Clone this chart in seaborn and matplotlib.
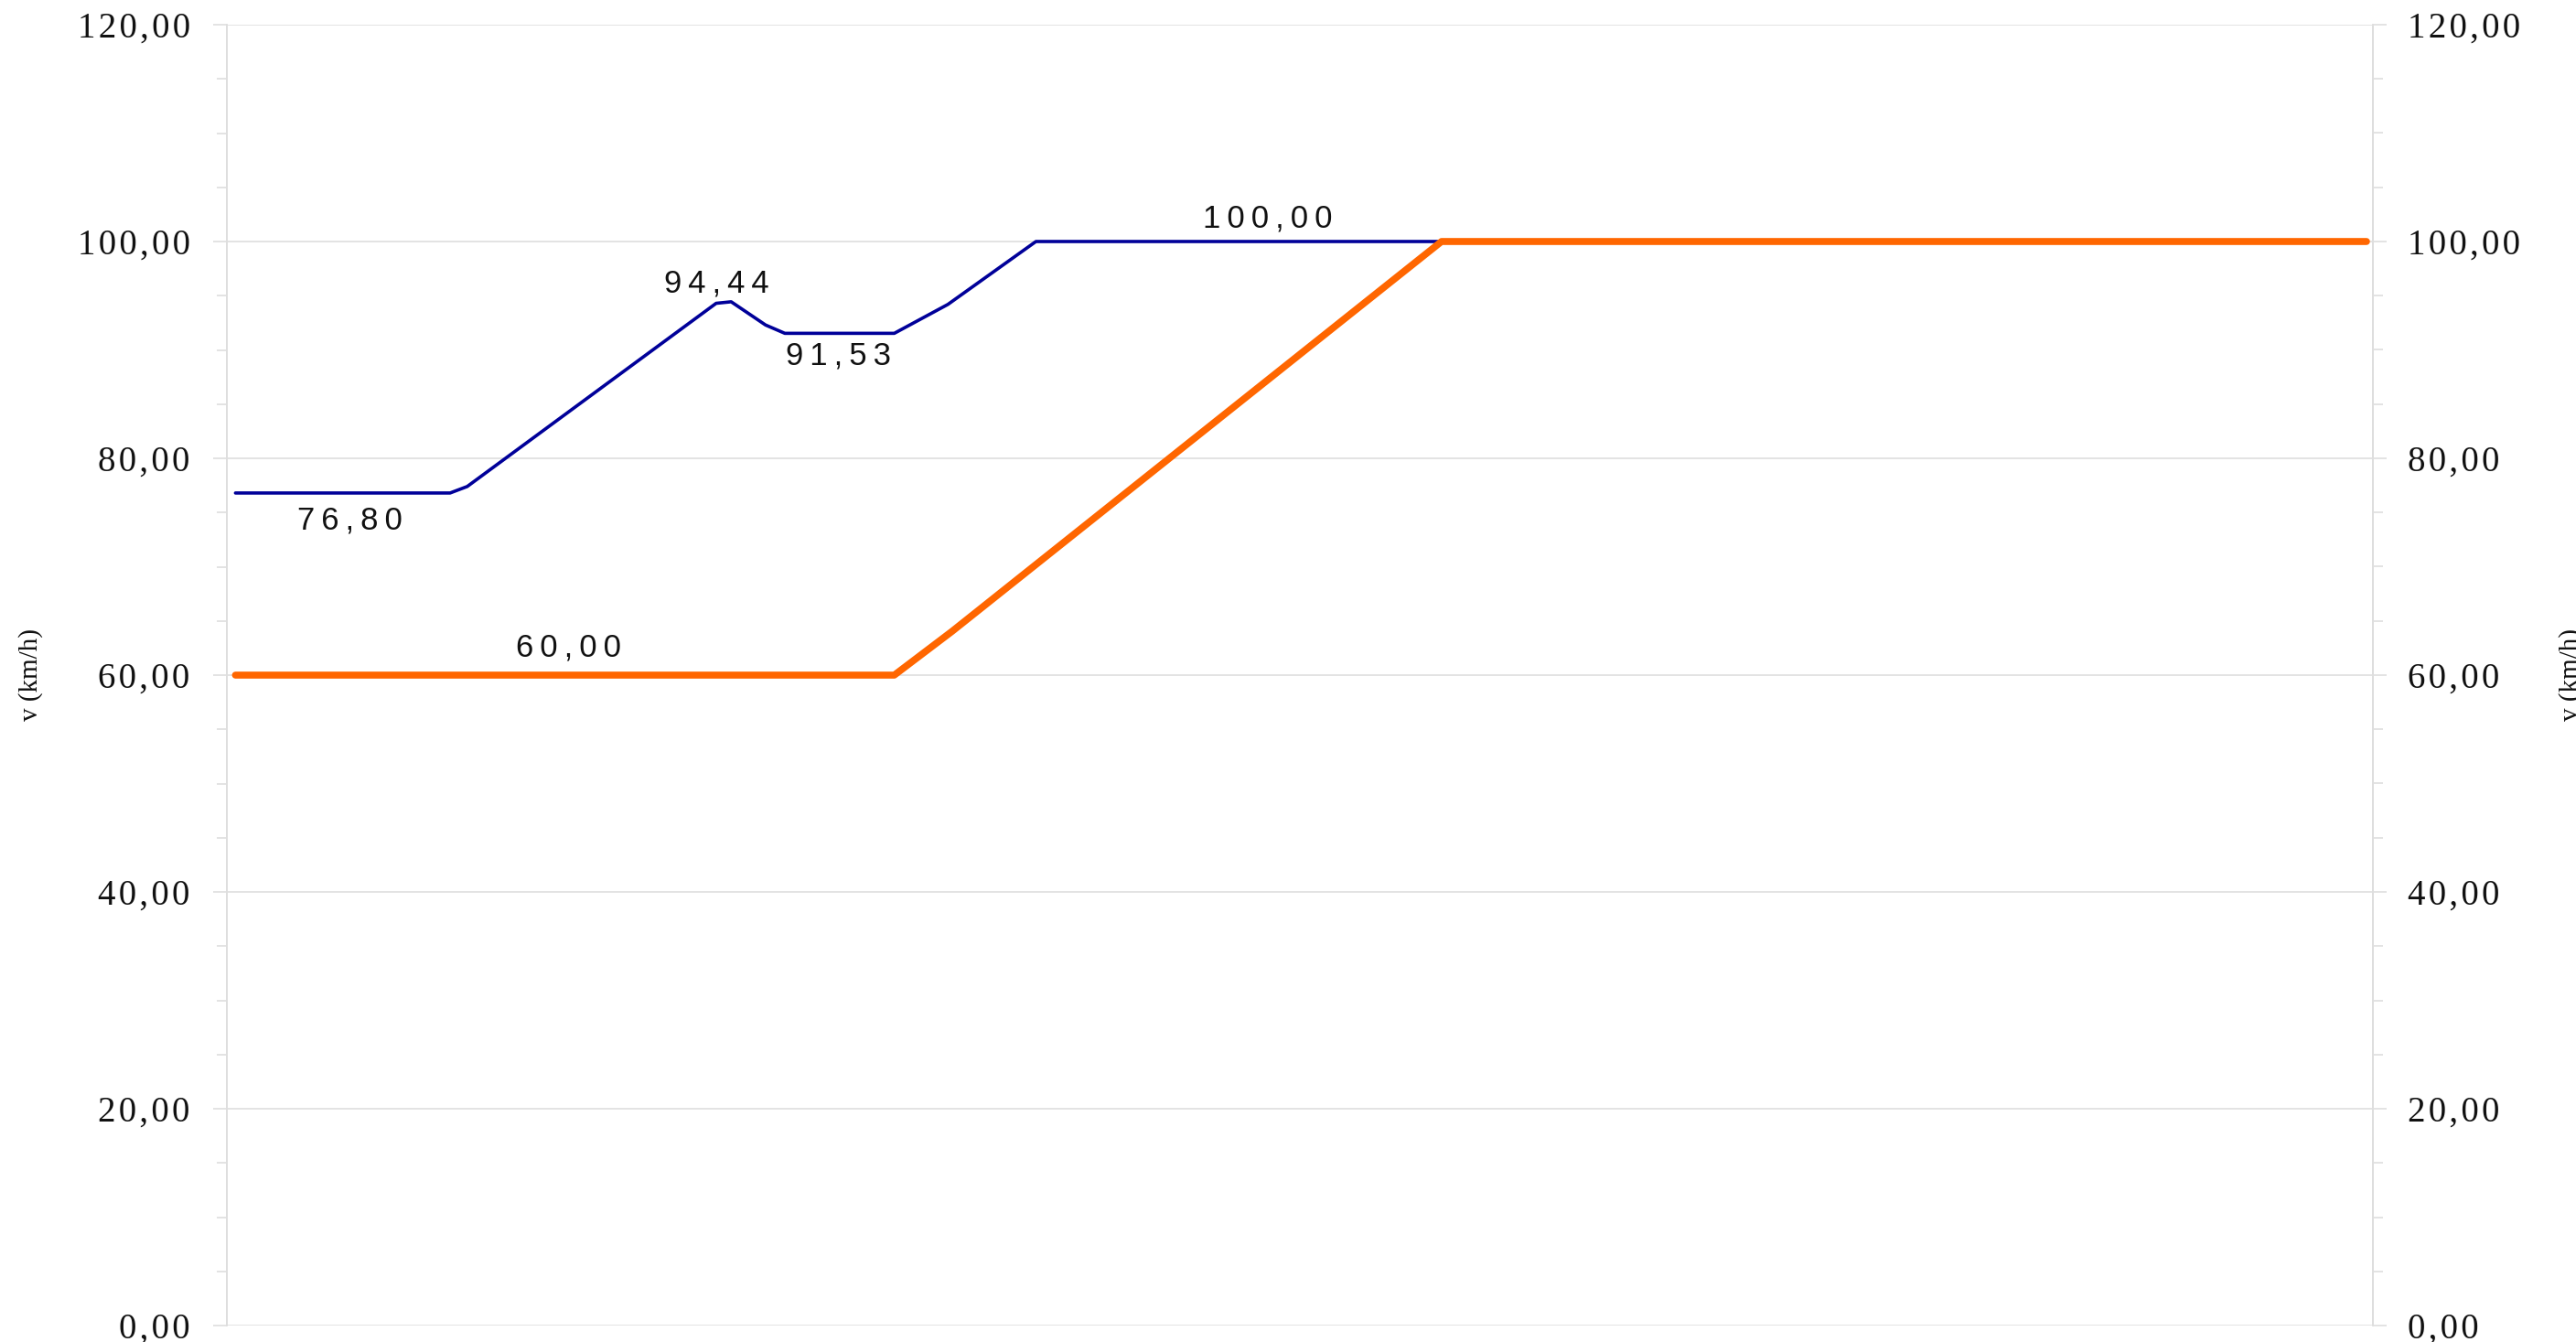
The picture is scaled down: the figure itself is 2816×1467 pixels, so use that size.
import matplotlib.pyplot as plt
import matplotlib.ticker as mticker
import pandas as pd
import seaborn as sns

# chainage (arbitrary units) and speeds
x_design = [4, 104, 112, 228, 235, 251, 260, 311, 336, 377, 997]
v_design = [76.80, 76.80, 77.4, 94.3, 94.44, 92.3, 91.53, 91.53, 94.2, 100.00, 100.00]

x_limit = [4, 311, 338, 566, 997]
v_limit = [60.00, 60.00, 64.05, 100.00, 100.00]

# value labels: (series, x of the point, value, text offset in px)
labels = [
    ('design', 57.5, 76.80, -30),
    ('limit', 159, 60.00, 30),
    ('design', 228, 94.44, 20),
    ('design', 285, 91.53, -25),
    ('design', 485, 100.00, 25),
]

y_ticks = [0, 20, 40, 60, 80, 100, 120]
y_title = 'v (km/h)'

blue = '#000099'
orange = '#ff6600'
grid_col = '#dedede'

sns.set_style('white')
plt.rcParams['font.family'] = ['Liberation Serif', 'DejaVu Serif']

df_design = pd.DataFrame({'x': x_design, 'v': v_design})
df_limit = pd.DataFrame({'x': x_limit, 'v': v_limit})

HAIR = '\u200a'
THIN = '\u2009'


def comma(v):
    return f'{v:.2f}'.replace('.', ',')


def spaced(s, sp):
    # the original software draws its labels letter-spaced
    return sp.join(s)


tick_fmt = mticker.FuncFormatter(lambda v, pos: spaced(comma(v), HAIR))

W, H = 2816, 1467
fig = plt.figure(figsize=(W / 100, H / 100), dpi=100)
ax = fig.add_axes([248 / W, 18 / H, (2594 - 248) / W, (1449 - 27) / H])

sns.lineplot(data=df_design, x='x', y='v', ax=ax, color=blue, linewidth=2.6,
             solid_capstyle='round', zorder=3)
sns.lineplot(data=df_limit, x='x', y='v', ax=ax, color=orange, linewidth=5.5,
             solid_capstyle='round', zorder=4)

ax.set_xlim(0, 1000)
ax.set_ylim(0, 120)
ax.set_xticks([])
ax.set_xlabel('')


def style_axis(a, pad):
    a.set_yticks(y_ticks)
    a.yaxis.set_minor_locator(mticker.MultipleLocator(5))
    a.yaxis.set_major_formatter(tick_fmt)
    a.tick_params(axis='y', which='major', direction='out', length=11, width=1.2,
                  color=grid_col, labelsize=28, labelcolor='#111111', pad=pad)
    a.tick_params(axis='y', which='minor', direction='out', length=8, width=1.2,
                  color=grid_col)
    for s in ['top', 'bottom']:
        a.spines[s].set_visible(False)
    for s in ['left', 'right']:
        a.spines[s].set_color(grid_col)
        a.spines[s].set_linewidth(1.2)


style_axis(ax, 18)
ax.grid(axis='y', color=grid_col, linewidth=1.2)
ax.set_ylabel(y_title, fontsize=21, color='#111111')
ax.yaxis.set_label_coords((47 - 248) / 2346, 0.5)

ax2 = ax.twinx()
ax2.set_ylim(ax.get_ylim())
style_axis(ax2, 16)
ax2.set_ylabel(y_title, fontsize=21, rotation=90, color='#111111')
ax2.yaxis.set_label_coords((2797 - 248) / 2346, 0.5)

for series, xv, val, off in labels:
    ax.annotate(spaced(comma(val), THIN), xy=(xv, val), xytext=(0, off * 0.72),
                textcoords='offset points', ha='center', va='center',
                fontsize=25, family=['Liberation Sans', 'DejaVu Sans'],
                color='#111111', zorder=5)

fig.savefig('out.png', dpi=100)
